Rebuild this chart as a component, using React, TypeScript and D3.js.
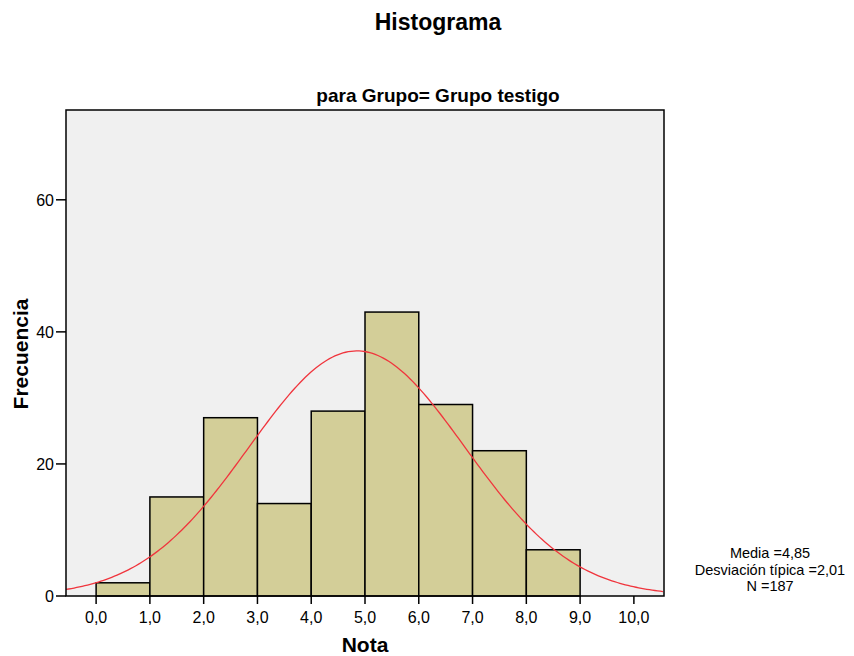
import React from 'react';
import * as d3 from 'd3';

// histogram bins (Nota), counts
const binStarts = [0, 1, 2, 3, 4, 5, 6, 7, 8];
const counts = [2, 15, 27, 14, 28, 43, 29, 22, 7];
const xTicks = [0, 1, 2, 3, 4, 5, 6, 7, 8, 9, 10];
const yTicks = [0, 20, 40, 60];

// summary stats shown in the chart
const media = 4.85;
const sd = 2.01;
const n = 187;
const binWidth = 1;

const W = 854;
const H = 656;
const margin = {left: 66, right: 190, top: 110, bottom: 60};

const font = 'Arial, "Liberation Sans", sans-serif';
const fmt = (v: number) => v.toFixed(1).replace('.', ',');

export default function App() {
  const x = d3.scaleLinear().domain([-0.56, 10.56]).range([margin.left, W - margin.right]);
  const y = d3.scaleLinear().domain([0, 73.6]).range([H - margin.bottom, margin.top]);

  // fitted normal curve from the stats above
  const normal = (v: number) =>
    (n * binWidth) / (sd * Math.sqrt(2 * Math.PI)) * Math.exp(-((v - media) ** 2) / (2 * sd * sd));
  const [x0, x1] = x.domain();
  const curvePts = d3.range(x0, x1 + 0.001, 0.05).map(v => [v, normal(v)] as [number, number]);
  const line = d3.line<[number, number]>().x(d => x(d[0])).y(d => y(d[1]));

  const plotL = x.range()[0];
  const plotR = x.range()[1];
  const plotT = y.range()[1];
  const plotB = y.range()[0];

  return (
    <svg width={W} height={H} style={{position: 'absolute', left: 0, top: 0}} fontFamily={font}>
      <rect x={0} y={0} width={W} height={H} fill="#ffffff" />
      <text x={438} y={30} textAnchor="middle" fontSize={23} fontWeight="bold">Histograma</text>
      <text x={438} y={102} textAnchor="middle" fontSize={19} fontWeight="bold">para Grupo= Grupo testigo</text>

      <rect x={plotL} y={plotT} width={plotR - plotL} height={plotB - plotT} fill="#f0f0f0" />

      {binStarts.map((b, i) => (
        <rect key={i} x={x(b)} y={y(counts[i])} width={x(b + binWidth) - x(b)} height={plotB - y(counts[i])}
          fill="#d3ce98" stroke="#000" strokeWidth={1.5} />
      ))}

      <path d={line(curvePts) || ''} fill="none" stroke="#f0353d" strokeWidth={1.3} />

      <rect x={plotL} y={plotT} width={plotR - plotL} height={plotB - plotT} fill="none" stroke="#000" strokeWidth={1.5} />

      {xTicks.map(t => (
        <g key={t}>
          <line x1={x(t)} x2={x(t)} y1={plotB} y2={plotB + 8} stroke="#000" strokeWidth={1.5} />
          <text x={x(t)} y={623} textAnchor="middle" fontSize={16}>{fmt(t)}</text>
        </g>
      ))}
      {yTicks.map(t => (
        <g key={t}>
          <line x1={plotL - 10} x2={plotL} y1={y(t)} y2={y(t)} stroke="#000" strokeWidth={1.5} />
          <text x={plotL - 12} y={y(t) + 6} textAnchor="end" fontSize={16}>{t}</text>
        </g>
      ))}

      <text x={365} y={652} textAnchor="middle" fontSize={21} fontWeight="bold">Nota</text>
      <text transform={`translate(28,354) rotate(-90)`} textAnchor="middle" fontSize={21} fontWeight="bold">Frecuencia</text>

      <text x={770} y={558} textAnchor="middle" fontSize={14.5}>Media ={media.toFixed(2).replace('.', ',')}</text>
      <text x={770} y={574.5} textAnchor="middle" fontSize={14.5}>Desviación típica ={sd.toFixed(2).replace('.', ',')}</text>
      <text x={770} y={591} textAnchor="middle" fontSize={14.5}>N ={n}</text>
    </svg>
  );
}
